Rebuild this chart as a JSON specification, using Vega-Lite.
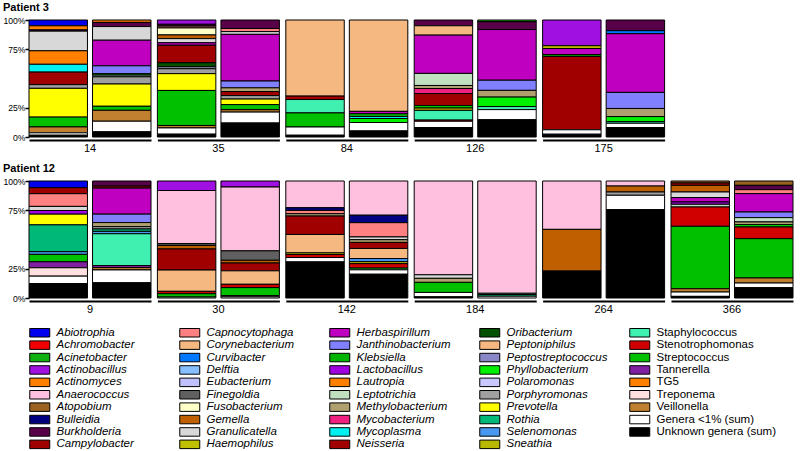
{
"$schema": "https://vega.github.io/schema/vega-lite/v6.json",
"padding": {"left": 3, "top": 2, "right": 0, "bottom": 0},
"datasets": {
"genera": [
{"genus":"Abiotrophia","k":0},{"genus":"Achromobacter","k":1},{"genus":"Acinetobacter","k":2},{"genus":"Actinobacillus","k":3},{"genus":"Actinomyces","k":4},{"genus":"Anaerococcus","k":5},{"genus":"Atopobium","k":6},{"genus":"Bulleidia","k":7},{"genus":"Burkholderia","k":8},{"genus":"Campylobacter","k":9},
{"genus":"Capnocytophaga","k":10},{"genus":"Corynebacterium","k":11},{"genus":"Curvibacter","k":12},{"genus":"Delftia","k":13},{"genus":"Eubacterium","k":14},{"genus":"Finegoldia","k":15},{"genus":"Fusobacterium","k":16},{"genus":"Gemella","k":17},{"genus":"Granulicatella","k":18},{"genus":"Haemophilus","k":19},
{"genus":"Herbaspirillum","k":20},{"genus":"Janthinobacterium","k":21},{"genus":"Klebsiella","k":22},{"genus":"Lactobacillus","k":23},{"genus":"Lautropia","k":24},{"genus":"Leptotrichia","k":25},{"genus":"Methylobacterium","k":26},{"genus":"Mycobacterium","k":27},{"genus":"Mycoplasma","k":28},{"genus":"Neisseria","k":29},
{"genus":"Oribacterium","k":30},{"genus":"Peptoniphilus","k":31},{"genus":"Peptostreptococcus","k":32},{"genus":"Phyllobacterium","k":33},{"genus":"Polaromonas","k":34},{"genus":"Porphyromonas","k":35},{"genus":"Prevotella","k":36},{"genus":"Rothia","k":37},{"genus":"Selenomonas","k":38},{"genus":"Sneathia","k":39},
{"genus":"Staphylococcus","k":40},{"genus":"Stenotrophomonas","k":41},{"genus":"Streptococcus","k":42},{"genus":"Tannerella","k":43},{"genus":"TG5","k":44},{"genus":"Treponema","k":45},{"genus":"Veillonella","k":46},{"genus":"Genera <1% (sum)","k":47},{"genus":"Unknown genera (sum)","k":48}
],
"bars": [
{"patient":3,"day":14,"sample":"a","genus":"Abiotrophia","value":4.9},
{"patient":3,"day":14,"sample":"a","genus":"Actinomyces","value":3.5},
{"patient":3,"day":14,"sample":"a","genus":"Burkholderia","value":1},
{"patient":3,"day":14,"sample":"a","genus":"Granulicatella","value":16.6},
{"patient":3,"day":14,"sample":"a","genus":"Lautropia","value":11.4},
{"patient":3,"day":14,"sample":"a","genus":"Mycoplasma","value":6.6},
{"patient":3,"day":14,"sample":"a","genus":"Neisseria","value":10.6},
{"patient":3,"day":14,"sample":"a","genus":"Porphyromonas","value":3.1},
{"patient":3,"day":14,"sample":"a","genus":"Prevotella","value":24.3},
{"patient":3,"day":14,"sample":"a","genus":"Streptococcus","value":8.3},
{"patient":3,"day":14,"sample":"a","genus":"Veillonella","value":5},
{"patient":3,"day":14,"sample":"a","genus":"Genera <1% (sum)","value":2},
{"patient":3,"day":14,"sample":"a","genus":"Unknown genera (sum)","value":1.5},
{"patient":3,"day":14,"sample":"b","genus":"Actinomyces","value":2},
{"patient":3,"day":14,"sample":"b","genus":"Burkholderia","value":3.5},
{"patient":3,"day":14,"sample":"b","genus":"Granulicatella","value":11.4},
{"patient":3,"day":14,"sample":"b","genus":"Herbaspirillum","value":21.4},
{"patient":3,"day":14,"sample":"b","genus":"Janthinobacterium","value":6.6},
{"patient":3,"day":14,"sample":"b","genus":"Klebsiella","value":1.2},
{"patient":3,"day":14,"sample":"b","genus":"Leptotrichia","value":1.4},
{"patient":3,"day":14,"sample":"b","genus":"Porphyromonas","value":6},
{"patient":3,"day":14,"sample":"b","genus":"Prevotella","value":18.6},
{"patient":3,"day":14,"sample":"b","genus":"Streptococcus","value":3.4},
{"patient":3,"day":14,"sample":"b","genus":"Veillonella","value":9.1},
{"patient":3,"day":14,"sample":"b","genus":"Genera <1% (sum)","value":8.9},
{"patient":3,"day":14,"sample":"b","genus":"Unknown genera (sum)","value":4.3},
{"patient":3,"day":35,"sample":"a","genus":"Actinobacillus","value":3.5},
{"patient":3,"day":35,"sample":"a","genus":"Burkholderia","value":1.5},
{"patient":3,"day":35,"sample":"a","genus":"Capnocytophaga","value":1.5},
{"patient":3,"day":35,"sample":"a","genus":"Fusobacterium","value":5.7},
{"patient":3,"day":35,"sample":"a","genus":"Gemella","value":3},
{"patient":3,"day":35,"sample":"a","genus":"Granulicatella","value":3.4},
{"patient":3,"day":35,"sample":"a","genus":"Herbaspirillum","value":2},
{"patient":3,"day":35,"sample":"a","genus":"Neisseria","value":14.3},
{"patient":3,"day":35,"sample":"a","genus":"Oribacterium","value":3.4},
{"patient":3,"day":35,"sample":"a","genus":"Polaromonas","value":1.5},
{"patient":3,"day":35,"sample":"a","genus":"Porphyromonas","value":4},
{"patient":3,"day":35,"sample":"a","genus":"Prevotella","value":13.7},
{"patient":3,"day":35,"sample":"a","genus":"Streptococcus","value":28.6},
{"patient":3,"day":35,"sample":"a","genus":"Veillonella","value":2},
{"patient":3,"day":35,"sample":"a","genus":"Genera <1% (sum)","value":5.1},
{"patient":3,"day":35,"sample":"a","genus":"Unknown genera (sum)","value":2.3},
{"patient":3,"day":35,"sample":"b","genus":"Burkholderia","value":7.1},
{"patient":3,"day":35,"sample":"b","genus":"Capnocytophaga","value":2.6},
{"patient":3,"day":35,"sample":"b","genus":"Granulicatella","value":2.3},
{"patient":3,"day":35,"sample":"b","genus":"Herbaspirillum","value":39},
{"patient":3,"day":35,"sample":"b","genus":"Janthinobacterium","value":5.7},
{"patient":3,"day":35,"sample":"b","genus":"Methylobacterium","value":3.1},
{"patient":3,"day":35,"sample":"b","genus":"Neisseria","value":3.4},
{"patient":3,"day":35,"sample":"b","genus":"Porphyromonas","value":2.9},
{"patient":3,"day":35,"sample":"b","genus":"Prevotella","value":4.6},
{"patient":3,"day":35,"sample":"b","genus":"Streptococcus","value":4.3},
{"patient":3,"day":35,"sample":"b","genus":"Veillonella","value":2},
{"patient":3,"day":35,"sample":"b","genus":"Genera <1% (sum)","value":9.1},
{"patient":3,"day":35,"sample":"b","genus":"Unknown genera (sum)","value":11.7},
{"patient":3,"day":84,"sample":"a","genus":"Corynebacterium","value":64.8},
{"patient":3,"day":84,"sample":"a","genus":"Neisseria","value":2.9},
{"patient":3,"day":84,"sample":"a","genus":"Staphylococcus","value":11.4},
{"patient":3,"day":84,"sample":"a","genus":"Streptococcus","value":12},
{"patient":3,"day":84,"sample":"a","genus":"Genera <1% (sum)","value":7},
{"patient":3,"day":84,"sample":"a","genus":"Unknown genera (sum)","value":1.5},
{"patient":3,"day":84,"sample":"b","genus":"Corynebacterium","value":77},
{"patient":3,"day":84,"sample":"b","genus":"Herbaspirillum","value":2},
{"patient":3,"day":84,"sample":"b","genus":"Klebsiella","value":2.3},
{"patient":3,"day":84,"sample":"b","genus":"Mycoplasma","value":1.7},
{"patient":3,"day":84,"sample":"b","genus":"Phyllobacterium","value":3.4},
{"patient":3,"day":84,"sample":"b","genus":"Genera <1% (sum)","value":7.1},
{"patient":3,"day":84,"sample":"b","genus":"Unknown genera (sum)","value":5.1},
{"patient":3,"day":126,"sample":"a","genus":"Burkholderia","value":4.9},
{"patient":3,"day":126,"sample":"a","genus":"Corynebacterium","value":8},
{"patient":3,"day":126,"sample":"a","genus":"Herbaspirillum","value":32.6},
{"patient":3,"day":126,"sample":"a","genus":"Leptotrichia","value":10.3},
{"patient":3,"day":126,"sample":"a","genus":"Methylobacterium","value":2.6},
{"patient":3,"day":126,"sample":"a","genus":"Mycobacterium","value":4.3},
{"patient":3,"day":126,"sample":"a","genus":"Neisseria","value":10.3},
{"patient":3,"day":126,"sample":"a","genus":"Phyllobacterium","value":2},
{"patient":3,"day":126,"sample":"a","genus":"Sneathia","value":2},
{"patient":3,"day":126,"sample":"a","genus":"Staphylococcus","value":8.3},
{"patient":3,"day":126,"sample":"a","genus":"Stenotrophomonas","value":1},
{"patient":3,"day":126,"sample":"a","genus":"Genera <1% (sum)","value":5.4},
{"patient":3,"day":126,"sample":"a","genus":"Unknown genera (sum)","value":8},
{"patient":3,"day":126,"sample":"b","genus":"Acinetobacter","value":1.5},
{"patient":3,"day":126,"sample":"b","genus":"Burkholderia","value":6.6},
{"patient":3,"day":126,"sample":"b","genus":"Herbaspirillum","value":42.9},
{"patient":3,"day":126,"sample":"b","genus":"Janthinobacterium","value":8.6},
{"patient":3,"day":126,"sample":"b","genus":"Methylobacterium","value":5.7},
{"patient":3,"day":126,"sample":"b","genus":"Phyllobacterium","value":8},
{"patient":3,"day":126,"sample":"b","genus":"Staphylococcus","value":2.6},
{"patient":3,"day":126,"sample":"b","genus":"Genera <1% (sum)","value":8.6},
{"patient":3,"day":126,"sample":"b","genus":"Unknown genera (sum)","value":14.6},
{"patient":3,"day":175,"sample":"a","genus":"Actinobacillus","value":21.4},
{"patient":3,"day":175,"sample":"a","genus":"Haemophilus","value":2.3},
{"patient":3,"day":175,"sample":"a","genus":"Herbaspirillum","value":5.1},
{"patient":3,"day":175,"sample":"a","genus":"Klebsiella","value":1.5},
{"patient":3,"day":175,"sample":"a","genus":"Neisseria","value":61},
{"patient":3,"day":175,"sample":"a","genus":"Genera <1% (sum)","value":3.7},
{"patient":3,"day":175,"sample":"a","genus":"Unknown genera (sum)","value":2.3},
{"patient":3,"day":175,"sample":"b","genus":"Burkholderia","value":9.1},
{"patient":3,"day":175,"sample":"b","genus":"Curvibacter","value":2.6},
{"patient":3,"day":175,"sample":"b","genus":"Herbaspirillum","value":50},
{"patient":3,"day":175,"sample":"b","genus":"Janthinobacterium","value":13.7},
{"patient":3,"day":175,"sample":"b","genus":"Methylobacterium","value":6.9},
{"patient":3,"day":175,"sample":"b","genus":"Phyllobacterium","value":4.3},
{"patient":3,"day":175,"sample":"b","genus":"Staphylococcus","value":1.4},
{"patient":3,"day":175,"sample":"b","genus":"Genera <1% (sum)","value":3.7},
{"patient":3,"day":175,"sample":"b","genus":"Unknown genera (sum)","value":8},
{"patient":12,"day":9,"sample":"a","genus":"Abiotrophia","value":5.7},
{"patient":12,"day":9,"sample":"a","genus":"Campylobacter","value":5.1},
{"patient":12,"day":9,"sample":"a","genus":"Capnocytophaga","value":10.8},
{"patient":12,"day":9,"sample":"a","genus":"Granulicatella","value":3.5},
{"patient":12,"day":9,"sample":"a","genus":"Lactobacillus","value":3.1},
{"patient":12,"day":9,"sample":"a","genus":"Prevotella","value":9.1},
{"patient":12,"day":9,"sample":"a","genus":"Rothia","value":22.8},
{"patient":12,"day":9,"sample":"a","genus":"Selenomonas","value":2.3},
{"patient":12,"day":9,"sample":"a","genus":"Streptococcus","value":6.3},
{"patient":12,"day":9,"sample":"a","genus":"Tannerella","value":5.1},
{"patient":12,"day":9,"sample":"a","genus":"Treponema","value":7.1},
{"patient":12,"day":9,"sample":"a","genus":"Genera <1% (sum)","value":6.3},
{"patient":12,"day":9,"sample":"a","genus":"Unknown genera (sum)","value":12.3},
{"patient":12,"day":9,"sample":"b","genus":"Burkholderia","value":4.3},
{"patient":12,"day":9,"sample":"b","genus":"Campylobacter","value":1.7},
{"patient":12,"day":9,"sample":"b","genus":"Herbaspirillum","value":21.9},
{"patient":12,"day":9,"sample":"b","genus":"Janthinobacterium","value":7.1},
{"patient":12,"day":9,"sample":"b","genus":"Methylobacterium","value":3.4},
{"patient":12,"day":9,"sample":"b","genus":"Porphyromonas","value":2},
{"patient":12,"day":9,"sample":"b","genus":"Rothia","value":2},
{"patient":12,"day":9,"sample":"b","genus":"Selenomonas","value":2},
{"patient":12,"day":9,"sample":"b","genus":"Staphylococcus","value":26.8},
{"patient":12,"day":9,"sample":"b","genus":"Tannerella","value":1.7},
{"patient":12,"day":9,"sample":"b","genus":"Veillonella","value":2},
{"patient":12,"day":9,"sample":"b","genus":"Genera <1% (sum)","value":10.8},
{"patient":12,"day":9,"sample":"b","genus":"Unknown genera (sum)","value":12.8},
{"patient":12,"day":30,"sample":"a","genus":"Actinobacillus","value":8},
{"patient":12,"day":30,"sample":"a","genus":"Anaerococcus","value":44.7},
{"patient":12,"day":30,"sample":"a","genus":"Finegoldia","value":1.5},
{"patient":12,"day":30,"sample":"a","genus":"Gemella","value":3},
{"patient":12,"day":30,"sample":"a","genus":"Neisseria","value":17.7},
{"patient":12,"day":30,"sample":"a","genus":"Peptoniphilus","value":17.9},
{"patient":12,"day":30,"sample":"a","genus":"Stenotrophomonas","value":2},
{"patient":12,"day":30,"sample":"a","genus":"Streptococcus","value":2.8},
{"patient":12,"day":30,"sample":"a","genus":"Genera <1% (sum)","value":0.8},
{"patient":12,"day":30,"sample":"b","genus":"Actinobacillus","value":5.1},
{"patient":12,"day":30,"sample":"b","genus":"Anaerococcus","value":54},
{"patient":12,"day":30,"sample":"b","genus":"Finegoldia","value":8},
{"patient":12,"day":30,"sample":"b","genus":"Gemella","value":2.3},
{"patient":12,"day":30,"sample":"b","genus":"Neisseria","value":6.6},
{"patient":12,"day":30,"sample":"b","genus":"Peptoniphilus","value":11.4},
{"patient":12,"day":30,"sample":"b","genus":"Stenotrophomonas","value":2.8},
{"patient":12,"day":30,"sample":"b","genus":"Streptococcus","value":6.8},
{"patient":12,"day":30,"sample":"b","genus":"Veillonella","value":1},
{"patient":12,"day":30,"sample":"b","genus":"Genera <1% (sum)","value":1},
{"patient":12,"day":142,"sample":"a","genus":"Anaerococcus","value":22.8},
{"patient":12,"day":142,"sample":"a","genus":"Bulleidia","value":2.3},
{"patient":12,"day":142,"sample":"a","genus":"Capnocytophaga","value":2.8},
{"patient":12,"day":142,"sample":"a","genus":"Methylobacterium","value":2},
{"patient":12,"day":142,"sample":"a","genus":"Neisseria","value":15.7},
{"patient":12,"day":142,"sample":"a","genus":"Peptoniphilus","value":15.7},
{"patient":12,"day":142,"sample":"a","genus":"Sneathia","value":1.4},
{"patient":12,"day":142,"sample":"a","genus":"Stenotrophomonas","value":2.6},
{"patient":12,"day":142,"sample":"a","genus":"Genera <1% (sum)","value":3.7},
{"patient":12,"day":142,"sample":"a","genus":"Unknown genera (sum)","value":30.8},
{"patient":12,"day":142,"sample":"b","genus":"Anaerococcus","value":28.8},
{"patient":12,"day":142,"sample":"b","genus":"Bulleidia","value":6.3},
{"patient":12,"day":142,"sample":"b","genus":"Capnocytophaga","value":12},
{"patient":12,"day":142,"sample":"b","genus":"Granulicatella","value":2.3},
{"patient":12,"day":142,"sample":"b","genus":"Methylobacterium","value":2.3},
{"patient":12,"day":142,"sample":"b","genus":"Neisseria","value":5.1},
{"patient":12,"day":142,"sample":"b","genus":"Peptoniphilus","value":8.5},
{"patient":12,"day":142,"sample":"b","genus":"Selenomonas","value":2.6},
{"patient":12,"day":142,"sample":"b","genus":"Sneathia","value":1.7},
{"patient":12,"day":142,"sample":"b","genus":"Stenotrophomonas","value":3.7},
{"patient":12,"day":142,"sample":"b","genus":"Streptococcus","value":1.5},
{"patient":12,"day":142,"sample":"b","genus":"Genera <1% (sum)","value":3.7},
{"patient":12,"day":142,"sample":"b","genus":"Unknown genera (sum)","value":20},
{"patient":12,"day":184,"sample":"a","genus":"Anaerococcus","value":79.2},
{"patient":12,"day":184,"sample":"a","genus":"Granulicatella","value":3},
{"patient":12,"day":184,"sample":"a","genus":"Methylobacterium","value":3.4},
{"patient":12,"day":184,"sample":"a","genus":"Streptococcus","value":8.5},
{"patient":12,"day":184,"sample":"a","genus":"Genera <1% (sum)","value":3.7},
{"patient":12,"day":184,"sample":"a","genus":"Unknown genera (sum)","value":1},
{"patient":12,"day":184,"sample":"b","genus":"Anaerococcus","value":95.4},
{"patient":12,"day":184,"sample":"b","genus":"Leptotrichia","value":1},
{"patient":12,"day":184,"sample":"b","genus":"Rothia","value":1.5},
{"patient":12,"day":184,"sample":"b","genus":"Genera <1% (sum)","value":1.5},
{"patient":12,"day":264,"sample":"a","genus":"Anaerococcus","value":41.3},
{"patient":12,"day":264,"sample":"a","genus":"Gemella","value":35.6},
{"patient":12,"day":264,"sample":"a","genus":"Unknown genera (sum)","value":23},
{"patient":12,"day":264,"sample":"b","genus":"Anaerococcus","value":4.3},
{"patient":12,"day":264,"sample":"b","genus":"Gemella","value":5.1},
{"patient":12,"day":264,"sample":"b","genus":"Porphyromonas","value":2.8},
{"patient":12,"day":264,"sample":"b","genus":"Genera <1% (sum)","value":12.3},
{"patient":12,"day":264,"sample":"b","genus":"Unknown genera (sum)","value":75.5},
{"patient":12,"day":366,"sample":"a","genus":"Atopobium","value":1.7},
{"patient":12,"day":366,"sample":"a","genus":"Campylobacter","value":2},
{"patient":12,"day":366,"sample":"a","genus":"Gemella","value":5.7},
{"patient":12,"day":366,"sample":"a","genus":"Granulicatella","value":4.8},
{"patient":12,"day":366,"sample":"a","genus":"Herbaspirillum","value":3.7},
{"patient":12,"day":366,"sample":"a","genus":"Lactobacillus","value":2},
{"patient":12,"day":366,"sample":"a","genus":"Leptotrichia","value":2.3},
{"patient":12,"day":366,"sample":"a","genus":"Stenotrophomonas","value":16.5},
{"patient":12,"day":366,"sample":"a","genus":"Streptococcus","value":53.3},
{"patient":12,"day":366,"sample":"a","genus":"Veillonella","value":2.8},
{"patient":12,"day":366,"sample":"a","genus":"Genera <1% (sum)","value":3.7},
{"patient":12,"day":366,"sample":"a","genus":"Unknown genera (sum)","value":1.4},
{"patient":12,"day":366,"sample":"b","genus":"Atopobium","value":3.7},
{"patient":12,"day":366,"sample":"b","genus":"Burkholderia","value":3.7},
{"patient":12,"day":366,"sample":"b","genus":"Capnocytophaga","value":3.4},
{"patient":12,"day":366,"sample":"b","genus":"Herbaspirillum","value":15.7},
{"patient":12,"day":366,"sample":"b","genus":"Janthinobacterium","value":4.8},
{"patient":12,"day":366,"sample":"b","genus":"Leptotrichia","value":3.7},
{"patient":12,"day":366,"sample":"b","genus":"Methylobacterium","value":2.3},
{"patient":12,"day":366,"sample":"b","genus":"Phyllobacterium","value":2},
{"patient":12,"day":366,"sample":"b","genus":"Stenotrophomonas","value":10},
{"patient":12,"day":366,"sample":"b","genus":"Streptococcus","value":33.6},
{"patient":12,"day":366,"sample":"b","genus":"Veillonella","value":4.3},
{"patient":12,"day":366,"sample":"b","genus":"Genera <1% (sum)","value":4},
{"patient":12,"day":366,"sample":"b","genus":"Unknown genera (sum)","value":8.8}
]
},
"data": {"name": "bars"},
"spacing": 9,
"vconcat": [
{
"title": {"text": "Patient 3", "anchor": "start", "fontSize": 11, "fontWeight": "bold", "font": "Liberation Sans", "color": "black", "offset": 3},
"transform": [
{"filter": "datum.patient === 3"},
{"lookup": "genus", "from": {"data": {"name": "genera"}, "key": "genus", "fields": ["k"]}}
],
"facet": {"column": {"field": "day", "type": "ordinal", "header": {"title": null, "labelOrient": "bottom", "labelFontSize": 11, "labelFont": "Liberation Sans", "labelColor": "black", "labelPadding": 3}}},
"spacing": 6.4,
"bounds": "flush",
"spec": {
"width": 122, "height": 117,
"mark": {"type": "bar", "stroke": "black", "strokeWidth": 1},
"encoding": {
"x": {"field": "sample", "type": "nominal", "scale": {"paddingInner": 0.08, "paddingOuter": 0}, "axis": {"title": null, "labels": false, "ticks": false, "domainWidth": 2.2, "domainColor": "black", "offset": 3}},
"y": {"field": "value", "type": "quantitative", "stack": "normalize", "scale": {"domain": [0, 1]}, "axis": {"title": null, "minExtent": 0, "values": [0, 0.25, 0.75, 1], "format": ".0%", "grid": false, "domain": false, "tickSize": 4, "tickWidth": 1.5, "tickColor": "black", "labelFontSize": 8.6, "labelColor": "black", "labelPadding": 0, "labelFont": "Liberation Sans"}},
"color": {"field": "genus", "type": "nominal",
"scale": {
"domain": ["Abiotrophia","Capnocytophaga","Herbaspirillum","Oribacterium","Staphylococcus","Achromobacter","Corynebacterium","Janthinobacterium","Peptoniphilus","Stenotrophomonas","Acinetobacter","Curvibacter","Klebsiella","Peptostreptococcus","Streptococcus","Actinobacillus","Delftia","Lactobacillus","Phyllobacterium","Tannerella","Actinomyces","Eubacterium","Lautropia","Polaromonas","TG5","Anaerococcus","Finegoldia","Leptotrichia","Porphyromonas","Treponema","Atopobium","Fusobacterium","Methylobacterium","Prevotella","Veillonella","Bulleidia","Gemella","Mycobacterium","Rothia","Genera <1% (sum)","Burkholderia","Granulicatella","Mycoplasma","Selenomonas","Unknown genera (sum)","Campylobacter","Haemophilus","Neisseria","Sneathia"],
"range": ["#0000ee","#ff8080","#c000c0","#005000","#40f0b0","#f00000","#f4b880","#8080ff","#f4b880","#d00000","#10b010","#0078ff","#00b400","#8888c8","#00c000","#a010e0","#88c0ff","#a000e0","#00f000","#8020a0","#ff8000","#c0c0ff","#ff8000","#c8c8ff","#ff8000","#ffc0e0","#606060","#c0e0c0","#a0a0a0","#ffe0e0","#9a6420","#ffffc8","#b0a070","#ffff00","#c08030","#000080","#c05f00","#f02080","#00b878","#ffffff","#580048","#d8d8d8","#00f0f0","#4898f0","#000000","#a00000","#c0c000","#a00000","#b8b800"]
},
"legend": {"title": null, "orient": "bottom", "offset": 12, "columns": 5, "symbolLimit": 100, "gridAlign": "all", "columnPadding": 0, "rowPadding": -0.6, "symbolType": "M-1,-0.85H3V0.85H-1Z", "symbolSize": 100, "symbolStrokeColor": "black", "symbolStrokeWidth": 1, "symbolOpacity": 1, "labelFontSize": 11.5, "labelFont": "Liberation Sans", "labelColor": "black", "labelOffset": 16, "labelLimit": 300,
"encode": {"labels": {"update": {"fontStyle": {"signal": "indexof(['Staphylococcus','Stenotrophomonas','Streptococcus','Tannerella','TG5','Treponema','Veillonella','Genera <1% (sum)','Unknown genera (sum)'], datum.value) >= 0 ? 'normal' : 'italic'"}}}}}
},
"order": {"field": "k", "type": "quantitative", "sort": "descending"}
}
}
},
{
"title": {"text": "Patient 12", "anchor": "start", "fontSize": 11, "fontWeight": "bold", "font": "Liberation Sans", "color": "black", "offset": 3},
"transform": [
{"filter": "datum.patient === 12"},
{"lookup": "genus", "from": {"data": {"name": "genera"}, "key": "genus", "fields": ["k"]}}
],
"facet": {"column": {"field": "day", "type": "ordinal", "header": {"title": null, "labelOrient": "bottom", "labelFontSize": 11, "labelFont": "Liberation Sans", "labelColor": "black", "labelPadding": 3}}},
"spacing": 6.4,
"bounds": "flush",
"spec": {
"width": 122, "height": 117,
"mark": {"type": "bar", "stroke": "black", "strokeWidth": 1},
"encoding": {
"x": {"field": "sample", "type": "nominal", "scale": {"paddingInner": 0.08, "paddingOuter": 0}, "axis": {"title": null, "labels": false, "ticks": false, "domainWidth": 2.2, "domainColor": "black", "offset": 3}},
"y": {"field": "value", "type": "quantitative", "stack": "normalize", "scale": {"domain": [0, 1]}, "axis": {"title": null, "minExtent": 0, "values": [0, 0.25, 0.75, 1], "format": ".0%", "grid": false, "domain": false, "tickSize": 4, "tickWidth": 1.5, "tickColor": "black", "labelFontSize": 8.6, "labelColor": "black", "labelPadding": 0, "labelFont": "Liberation Sans"}},
"color": {"field": "genus", "type": "nominal",
"scale": {
"domain": ["Abiotrophia","Capnocytophaga","Herbaspirillum","Oribacterium","Staphylococcus","Achromobacter","Corynebacterium","Janthinobacterium","Peptoniphilus","Stenotrophomonas","Acinetobacter","Curvibacter","Klebsiella","Peptostreptococcus","Streptococcus","Actinobacillus","Delftia","Lactobacillus","Phyllobacterium","Tannerella","Actinomyces","Eubacterium","Lautropia","Polaromonas","TG5","Anaerococcus","Finegoldia","Leptotrichia","Porphyromonas","Treponema","Atopobium","Fusobacterium","Methylobacterium","Prevotella","Veillonella","Bulleidia","Gemella","Mycobacterium","Rothia","Genera <1% (sum)","Burkholderia","Granulicatella","Mycoplasma","Selenomonas","Unknown genera (sum)","Campylobacter","Haemophilus","Neisseria","Sneathia"],
"range": ["#0000ee","#ff8080","#c000c0","#005000","#40f0b0","#f00000","#f4b880","#8080ff","#f4b880","#d00000","#10b010","#0078ff","#00b400","#8888c8","#00c000","#a010e0","#88c0ff","#a000e0","#00f000","#8020a0","#ff8000","#c0c0ff","#ff8000","#c8c8ff","#ff8000","#ffc0e0","#606060","#c0e0c0","#a0a0a0","#ffe0e0","#9a6420","#ffffc8","#b0a070","#ffff00","#c08030","#000080","#c05f00","#f02080","#00b878","#ffffff","#580048","#d8d8d8","#00f0f0","#4898f0","#000000","#a00000","#c0c000","#a00000","#b8b800"]
},
"legend": {"title": null, "orient": "bottom", "offset": 12, "columns": 5, "symbolLimit": 100, "gridAlign": "all", "columnPadding": 0, "rowPadding": -0.6, "symbolType": "M-1,-0.85H3V0.85H-1Z", "symbolSize": 100, "symbolStrokeColor": "black", "symbolStrokeWidth": 1, "symbolOpacity": 1, "labelFontSize": 11.5, "labelFont": "Liberation Sans", "labelColor": "black", "labelOffset": 16, "labelLimit": 300,
"encode": {"labels": {"update": {"fontStyle": {"signal": "indexof(['Staphylococcus','Stenotrophomonas','Streptococcus','Tannerella','TG5','Treponema','Veillonella','Genera <1% (sum)','Unknown genera (sum)'], datum.value) >= 0 ? 'normal' : 'italic'"}}}}}
},
"order": {"field": "k", "type": "quantitative", "sort": "descending"}
}
}
}
],
"config": {"view": {"stroke": null}, "font": "Liberation Sans"}
}
